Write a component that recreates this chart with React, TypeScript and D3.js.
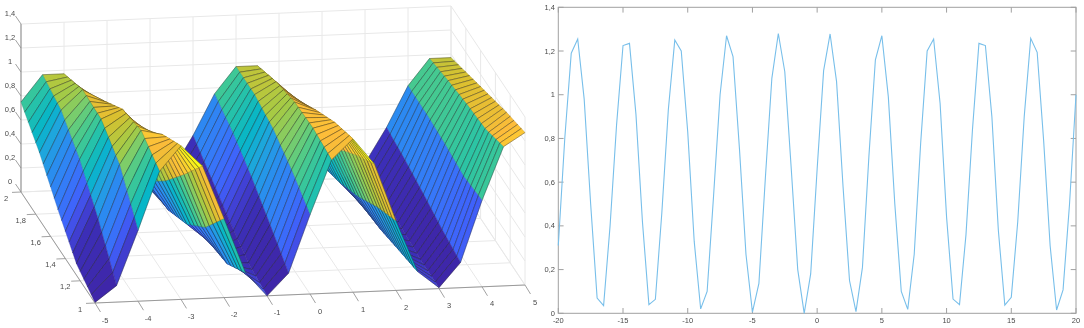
import React from "react";
import * as d3 from "d3";

// ---------- Left panel: surface heights ----------
const gridX = [-5,-4.5,-4,-3.5,-3,-2.5,-2,-1.5,-1,-0.5,0,0.5,1,1.5,2,2.5,3,3.5,4,4.5,5];
const gridY = [1, 1.25, 1.5, 1.75, 2];
const rowY100 = [0.005,0.137,0.59,1.075,1.28,1.105,0.66,0.2,0,0.18,0.66,1.11,1.278,1.06,0.58,0.15,0.008,0.21,0.72,1.16,1.27];
const rowY125 = [0.096,0.463,0.907,1.185,1.143,0.803,0.354,0.044,0.043,0.354,0.803,1.143,1.185,0.907,0.463,0.096,0.011,0.254,0.691,1.08,1.208];
const rowY150 = [0.316,0.726,1.055,1.13,0.914,0.518,0.149,0,0.149,0.518,0.914,1.13,1.055,0.726,0.316,0.039,0.039,0.316,0.726,1.055,1.13];
const rowY175 = [0.559,0.905,1.068,0.968,0.654,0.281,0.034,0.034,0.281,0.654,0.968,1.068,0.905,0.559,0.201,0.009,0.076,0.37,0.746,1.017,1.051];
const rowY200 = [0.75,0.97,0.97,0.75,0.41,0.12,0,0.12,0.41,0.75,0.97,0.97,0.75,0.41,0.12,0,0.12,0.41,0.75,0.97,0.97];
const surfaceRows = [rowY100, rowY125, rowY150, rowY175, rowY200];
const meshRows = 20; // drawn mesh lines between y=1 and y=2

const xTicks3D = [-5,-4,-3,-2,-1,0,1,2,3,4,5];
const yTicks3D = [1,1.2,1.4,1.6,1.8,2];
const zTicks3D = [0,0.2,0.4,0.6,0.8,1,1.2,1.4];
const colorStops = [0,0.08,0.13,0.17,0.24,0.32,0.4,0.46,0.54,0.6,0.66,0.72,0.8,0.88,0.94,1];
const colorValues = ["#3e26a8","#3c2fb8","#4348e0","#3f62fb","#357bf8","#2a8cf0","#1ea6dd","#06b6c8","#2cc4a4","#4ecb8a","#7fcd68","#a5ca45","#dac02f","#fdbc3a","#fad42d","#f9fb15"];

// ---------- Right panel: line values ----------
const lineX = d3.range(-20, 20.25, 0.5);
const lineY = [0.31,0.80,1.19,1.255,0.98,0.50,0.07,0.035,0.40,0.86,1.225,1.235,0.91,0.42,0.04,0.064,0.46,0.93,1.25,1.20,0.83,0.33,0.02,0.10,0.54,1.0,1.27,1.175,0.75,0.27,0.005,0.137,0.62,1.075,1.28,1.105,0.66,0.2,0,0.18,0.66,1.11,1.278,1.06,0.58,0.15,0.008,0.21,0.72,1.16,1.27,0.99,0.5,0.10,0.018,0.27,0.78,1.2,1.255,0.96,0.44,0.065,0.04,0.36,0.84,1.235,1.225,0.9,0.38,0.037,0.073,0.42,0.9,1.258,1.194,0.79,0.31,0.015,0.107,0.5,1.0];
const xTicks2D = [-20,-15,-10,-5,0,5,10,15,20];
const yTicks2D = [0,0.2,0.4,0.6,0.8,1,1.2,1.4];

const comma = (v: number) => String(v).replace(".", ",");
const FONT = "'Liberation Sans', Arial, sans-serif";
const TXT = "#4a4a4a";

// projection of the 3D box: origin (x=-5, y=1, z=0)
const px = d3.scaleLinear().domain([-5, 5]).range([0, 430]);
const pxy = d3.scaleLinear().domain([-5, 5]).range([0, -18]);
const py = d3.scaleLinear().domain([1, 2]).range([0, -74]);
const pyy = d3.scaleLinear().domain([1, 2]).range([0, -111]);
const pz = d3.scaleLinear().domain([0, 1.4]).range([0, -168]);
const project = (x: number, y: number, z: number): [number, number] => [
  95 + px(x) + py(y),
  303 + pxy(x) + pyy(y) + pz(z),
];
const pts = (a: [number, number][]) => a.map((p) => p[0].toFixed(2) + "," + p[1].toFixed(2)).join(" ");

const color = d3.scaleLinear<string>().domain(colorStops.map((t) => t * 1.28)).range(colorValues).clamp(true);

function Surface() {
  const ys = d3.range(meshRows + 1).map((i) => 1 + i / meshRows);
  // one piecewise scale per grid column, to place the mesh rows on the read heights
  const cols = gridX.map((_, c) => d3.scaleLinear().domain(gridY).range(surfaceRows.map((r) => r[c])));
  const faces: React.ReactNode[] = [];
  for (let j = meshRows - 1; j >= 0; j--) {
    for (let i = gridX.length - 2; i >= 0; i--) {
      const x0 = gridX[i], x1 = gridX[i + 1], y0 = ys[j], y1 = ys[j + 1];
      const a = project(x0, y0, cols[i](y0));
      const b = project(x1, y0, cols[i + 1](y0));
      const c = project(x1, y1, cols[i + 1](y1));
      const d = project(x0, y1, cols[i](y1));
      const fill = color(cols[i](y0));
      faces.push(
        <g key={j + "-" + i}>
          <polygon points={pts([a, b, c, d])} fill={fill} stroke={fill} strokeWidth={0.3} />
          <polyline points={pts([d, a])} fill="none" stroke="#1c1c1c" strokeOpacity={0.18} strokeWidth={0.6} />
          <polyline points={pts([b, c])} fill="none" stroke="#1c1c1c" strokeOpacity={0.18} strokeWidth={0.6} />
          <polyline points={pts([a, b])} fill="none" stroke="#1c1c1c" strokeOpacity={0.5} strokeWidth={0.75} />
          <polyline points={pts([d, c])} fill="none" stroke="#1c1c1c" strokeOpacity={0.5} strokeWidth={0.75} />
        </g>
      );
    }
  }
  return <g>{faces}</g>;
}

function seg(a: [number, number], b: [number, number], stroke: string, w: number, key: string) {
  return <line key={key} x1={a[0]} y1={a[1]} x2={b[0]} y2={b[1]} stroke={stroke} strokeWidth={w} />;
}

function Box3D() {
  const grid = "#e8e8e8";
  const ax = "#9a9a9a";
  const els: React.ReactNode[] = [];
  // grid lines on the floor and on the two back walls
  xTicks3D.forEach((x) => {
    els.push(seg(project(x, 1, 0), project(x, 2, 0), grid, 1, "fx" + x));
    els.push(seg(project(x, 2, 0), project(x, 2, 1.4), grid, 1, "wx" + x));
  });
  yTicks3D.forEach((y) => {
    els.push(seg(project(-5, y, 0), project(5, y, 0), grid, 1, "fy" + y));
    els.push(seg(project(5, y, 0), project(5, y, 1.4), grid, 1, "wy" + y));
  });
  zTicks3D.forEach((z) => {
    els.push(seg(project(-5, 2, z), project(5, 2, z), grid, 1, "wz" + z));
    els.push(seg(project(5, 2, z), project(5, 1, z), grid, 1, "rz" + z));
  });
  // axes
  els.push(seg(project(-5, 1, 0), project(5, 1, 0), ax, 1, "axx"));
  els.push(seg(project(-5, 1, 0), project(-5, 2, 0), ax, 1, "axy"));
  els.push(seg(project(-5, 2, 0), project(-5, 2, 1.4), ax, 1.2, "axz"));
  return <g>{els}</g>;
}

function Ticks3D() {
  const ax = "#8a8a8a";
  const style = { fontFamily: FONT, fontSize: 7.5, fill: TXT } as const;
  return (
    <g>
      {xTicks3D.map((x) => {
        const p = project(x, 1, 0);
        return (
          <g key={"x" + x}>
            {seg(p, [p[0] + 5.5, p[1] + 9], ax, 0.8, "t")}
            <text x={p[0] + 10} y={p[1] + 17} dy="0.35em" textAnchor="middle" {...style}>{x}</text>
          </g>
        );
      })}
      {yTicks3D.map((y) => {
        const p = project(-5, y, 0);
        return (
          <g key={"y" + y}>
            {seg(p, [p[0] - 9, p[1] + 0.4], ax, 0.8, "t")}
            <text x={p[0] - 15} y={p[1] + 6} dy="0.35em" textAnchor="middle" {...style}>{comma(y)}</text>
          </g>
        );
      })}
      {zTicks3D.map((z) => {
        const p = project(-5, 2, z);
        return (
          <g key={"z" + z}>
            {seg(p, [p[0] - 5.5, p[1] - 8], ax, 0.8, "t")}
            <text x={p[0] - 11} y={p[1] - 11} dy="0.35em" textAnchor="middle" {...style}>{comma(z)}</text>
          </g>
        );
      })}
    </g>
  );
}

function LinePanel() {
  const x = d3.scaleLinear().domain([-20, 20]).range([558.3, 1076]);
  const y = d3.scaleLinear().domain([0, 1.4]).range([313.3, 7.3]);
  const line = d3.line<number>().x((_, i) => x(lineX[i])).y((d) => y(d));
  const ax = "#a0a0a0";
  const style = { fontFamily: FONT, fontSize: 7.5, fill: TXT } as const;
  return (
    <g>
      <rect x={558.3} y={7.3} width={517.7} height={306} fill="#fff" stroke={ax} strokeWidth={1} />
      {xTicks2D.map((t) => (
        <g key={t}>
          <line x1={x(t)} x2={x(t)} y1={313.3} y2={308} stroke={ax} />
          <line x1={x(t)} x2={x(t)} y1={7.3} y2={12.6} stroke={ax} />
          <text x={x(t)} y={320} dy="0.35em" textAnchor="middle" {...style}>{t}</text>
        </g>
      ))}
      {yTicks2D.map((t) => (
        <g key={t}>
          <line x1={558.3} x2={563.6} y1={y(t)} y2={y(t)} stroke={ax} />
          <line x1={1076} x2={1070.7} y1={y(t)} y2={y(t)} stroke={ax} />
          <text x={555} y={y(t)} dy="0.35em" textAnchor="end" {...style}>{comma(t)}</text>
        </g>
      ))}
      <path d={line(lineY) || ""} fill="none" stroke="#78bfea" strokeWidth={1.1} />
    </g>
  );
}

export default function App() {
  return (
    <svg width={1084} height={328} viewBox="0 0 1084 328" style={{ position: "absolute", left: 0, top: 0, background: "#fff", filter: "blur(0.35px)" }}>
      <Box3D />
      <Surface />
      <Ticks3D />
      <LinePanel />
    </svg>
  );
}
